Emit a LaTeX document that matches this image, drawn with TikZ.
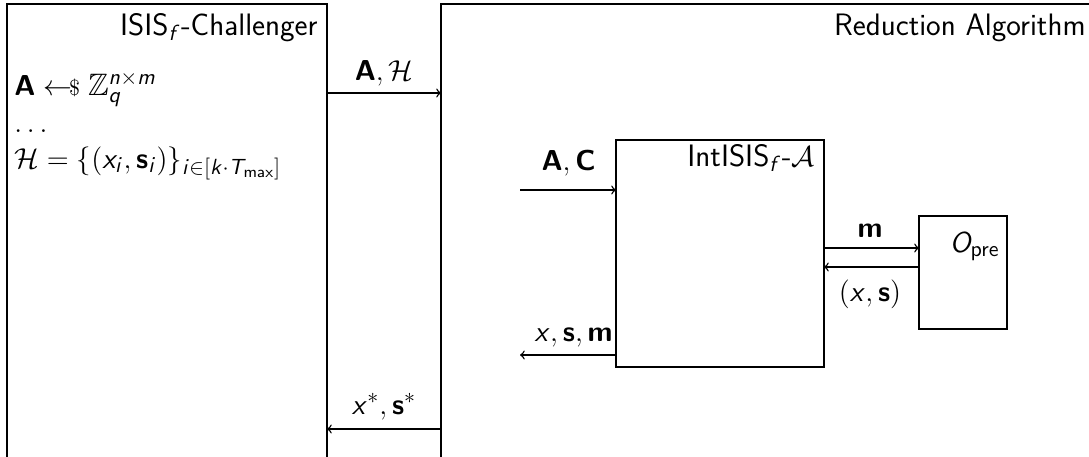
\documentclass[tikz,border=0pt]{standalone}
\usepackage{amsmath,amssymb}
\renewcommand{\familydefault}{\sfdefault}
\DeclareMathAlphabet{\msi}{OT1}{cmss}{m}{sl}
\DeclareMathAlphabet{\msb}{OT1}{cmss}{bx}{n}
\DeclareMathAlphabet{\msr}{OT1}{cmss}{m}{n}
\begin{document}
\begin{tikzpicture}[x=0.5pt,y=-0.5pt,
  box/.style={draw, line width=0.8pt, inner sep=0pt, outer sep=0pt, anchor=north west},
  lbl/.style={inner sep=0pt, font=\fontsize{15.5}{18}\selectfont},
  conn/.style={->, line width=0.7pt}]
\useasboundingbox (0,0) rectangle (1089,456);
\clip (0,0) rectangle (1089,456);
% outer boxes
\node[box, minimum width=160pt, minimum height=240pt] (chal) at (7,4) {};
\node[box, minimum width=330pt, minimum height=240pt] (red) at (441,4) {};
\node[box, minimum width=104pt, minimum height=113.5pt] (adv) at (616,140) {};
\node[box, minimum width=44pt, minimum height=56.5pt] (ora) at (919,216) {};
% titles
\node[lbl, anchor=base east] (tchal) at (318,35) {ISIS$_{\msi{f}}$-Challenger};
\node[lbl, anchor=base east] (tred) at (1086,35) {Reduction Algorithm};
\node[lbl, anchor=base east] (tadv) at (815,166) {IntISIS$_{\msi{f}}$-$\mathcal{A}$};
\node[lbl, anchor=base east] (tora) at (1000,252) {$\msi{O}_{\msr{pre}}$};
% challenger text
\node[lbl, anchor=base west] (l1) at (14,95) {$\msb{A} \leftarrow\mkern-7mu{\scriptstyle\$}\; \mathbb{Z}_{\msi{q}}^{\msi{n}\times \msi{m}}$};
\node[lbl, anchor=base west] (l2) at (14,132) {$\dots$};
\node[lbl, anchor=base west] (l3) at (14,168) {$\mathcal{H} = \{(\msi{x}_{\msi{i}},\msb{s}_{\msi{i}})\}_{\msi{i}\in[\msi{k}\cdot \msi{T}_{\msr{max}}]}$};
% coordinates for arrows
\coordinate (h1) at (0,93);
\coordinate (h2) at (520,190);
\coordinate (h3) at (0,248);
\coordinate (h4) at (0,267);
\coordinate (h5) at (520,355);
\coordinate (h6) at (0,429);
% arrows
\draw[conn] (chal.east |- h1) -- (red.west |- h1);
\draw[conn] (h2) -- (adv.west |- h2);
\draw[conn] (adv.east |- h3) -- (ora.west |- h3);
\draw[conn] (ora.west |- h4) -- (adv.east |- h4);
\draw[conn] (adv.west |- h5) -- (h5);
\draw[conn] (red.west |- h6) -- (chal.east |- h6);
% arrow labels
\node[lbl, anchor=base] (a1) at (384,80) {$\msb{A},\mathcal{H}$};
\node[lbl, anchor=base east] (a2) at (596,170) {$\msb{A},\msb{C}$};
\node[lbl, anchor=base] (a3) at (870,237) {$\msb{m}$};
\node[lbl, anchor=base] (a4) at (870,301) {$(\msi{x},\msb{s})$};
\node[lbl, anchor=base east] (a5) at (613,341) {$\msi{x},\msb{s},\msb{m}$};
\node[lbl, anchor=base] (a6) at (384,414) {$\msi{x}^{*},\msb{s}^{*}$};
\end{tikzpicture}
\end{document}
